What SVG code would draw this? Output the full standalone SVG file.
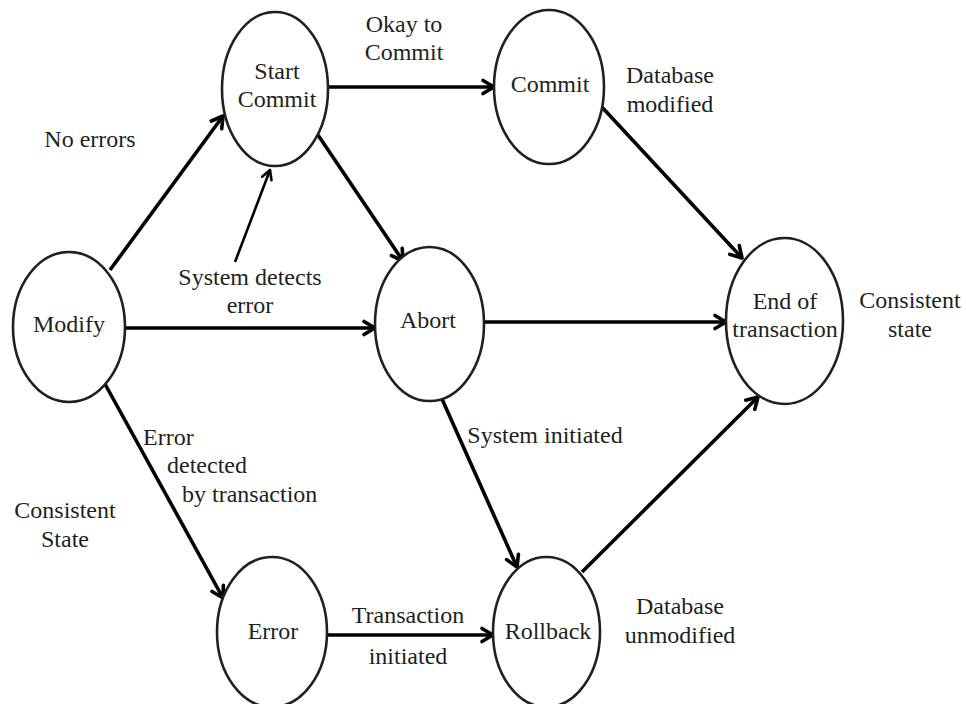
<svg xmlns="http://www.w3.org/2000/svg" width="966" height="704" viewBox="0 0 966 704">
  <style>
    .state ellipse { fill: #ffffff; stroke: #231f20; stroke-width: 2.6; }
    text { font-family: "Liberation Serif", "Times New Roman", serif; font-size: 24px; fill: #231f20; text-anchor: middle; }
    .edge { stroke: #000000; stroke-width: 3.6; fill: none; marker-end: url(#arrow); }
    .edge.thin { stroke-width: 2.6; marker-end: url(#arrowThin); }
    .left { text-anchor: start; }
  </style>
  <defs>
    <marker id="arrow" markerUnits="userSpaceOnUse" viewBox="-14 -8 16 16" markerWidth="16" markerHeight="16" refX="0" refY="0" orient="auto" overflow="visible">
      <path d="M-11,-6.5 L0,0 L-11,6.5" fill="none" stroke="#000000" stroke-width="3.6" stroke-linejoin="round" stroke-linecap="round"/>
    </marker>
    <marker id="arrowThin" markerUnits="userSpaceOnUse" viewBox="-14 -8 16 16" markerWidth="16" markerHeight="16" refX="0" refY="0" orient="auto" overflow="visible">
      <path d="M-9,-5 L0,0 L-9,5" fill="none" stroke="#000000" stroke-width="2.6" stroke-linejoin="round" stroke-linecap="round"/>
    </marker>
  </defs>

  <rect width="966" height="704" fill="#ffffff"/>

  <!-- transitions -->
  <g id="connectors">
    <line class="edge" x1="110" y1="270" x2="223" y2="116"/>
    <line class="edge thin" x1="235" y1="262" x2="270" y2="170"/>
    <line class="edge" x1="328" y1="87" x2="494" y2="87"/>
    <line class="edge" x1="318" y1="135" x2="403" y2="261"/>
    <line class="edge" x1="125" y1="328" x2="375" y2="328"/>
    <line class="edge" x1="484" y1="322" x2="726" y2="322"/>
    <line class="edge" x1="600" y1="105" x2="742" y2="258"/>
    <line class="edge" x1="105" y1="384" x2="223" y2="598"/>
    <line class="edge" x1="442" y1="399" x2="517" y2="567"/>
    <line class="edge" x1="582" y1="572" x2="758" y2="397"/>
    <line class="edge" x1="327" y1="635" x2="493" y2="635"/>
  </g>

  <!-- states -->
  <g id="modify" class="state">
    <ellipse cx="69" cy="327" rx="56" ry="75"/>
    <text x="69" y="332">Modify</text>
  </g>
  <g id="start-commit" class="state">
    <ellipse cx="275" cy="89" rx="53" ry="77"/>
    <text x="277" y="79">Start</text>
    <text x="277" y="107">Commit</text>
  </g>
  <g id="commit" class="state">
    <ellipse cx="549" cy="87" rx="55" ry="77"/>
    <text x="550" y="92">Commit</text>
  </g>
  <g id="abort" class="state">
    <ellipse cx="429.5" cy="324" rx="54.5" ry="77"/>
    <text x="428" y="328">Abort</text>
  </g>
  <g id="end-of-transaction" class="state">
    <ellipse cx="784.5" cy="321" rx="58.5" ry="83"/>
    <text x="785" y="309">End of</text>
    <text x="785" y="337">transaction</text>
  </g>
  <g id="error" class="state">
    <ellipse cx="272" cy="632" rx="55" ry="75"/>
    <text x="273" y="639">Error</text>
  </g>
  <g id="rollback" class="state">
    <ellipse cx="546.5" cy="632" rx="53.5" ry="75"/>
    <text x="548" y="639">Rollback</text>
  </g>

  <!-- transition and state annotations -->
  <g id="labels">
    <text x="90" y="147">No errors</text>
    <text x="404" y="32">Okay to</text>
    <text x="404" y="60">Commit</text>
    <text x="670" y="83">Database</text>
    <text x="670" y="112">modified</text>
    <text x="250" y="285">System detects</text>
    <text x="250" y="313">error</text>
    <text x="910" y="308">Consistent</text>
    <text x="910" y="337">state</text>
    <text class="left" x="143" y="445">Error</text>
    <text class="left" x="167" y="473">detected</text>
    <text class="left" x="182" y="502">by transaction</text>
    <text x="545" y="443">System initiated</text>
    <text x="65" y="518">Consistent</text>
    <text x="65" y="547">State</text>
    <text x="408" y="623">Transaction</text>
    <text x="408" y="664">initiated</text>
    <text x="680" y="614">Database</text>
    <text x="680" y="643">unmodified</text>
  </g>
</svg>
